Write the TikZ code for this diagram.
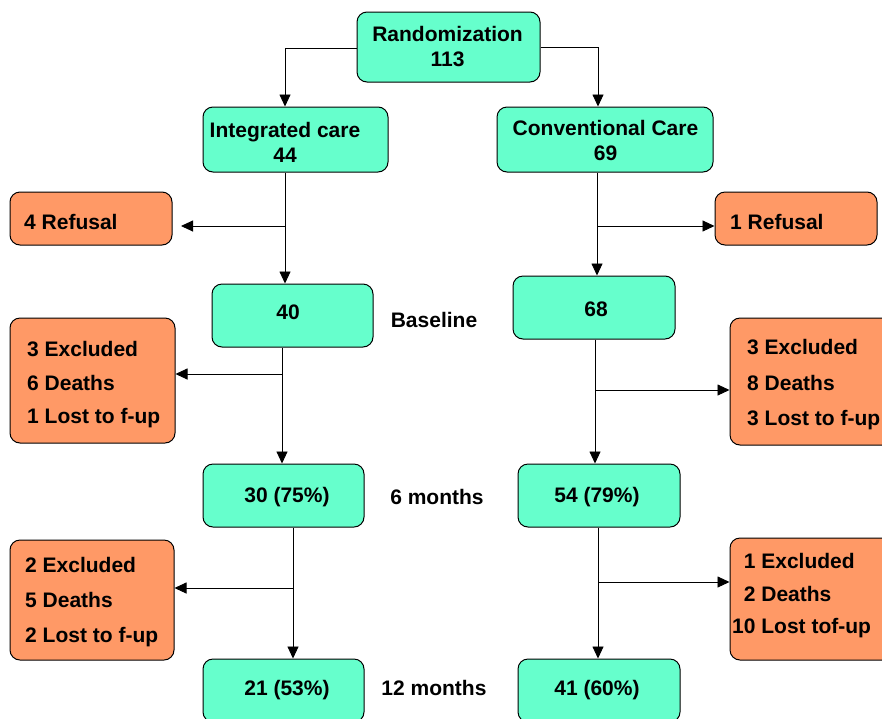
\documentclass[tikz,border=0pt]{standalone}
\usepackage{fontspec}
\setmainfont{Liberation Sans}
\usetikzlibrary{arrows.meta}
\definecolor{tealfill}{RGB}{102,255,204}
\definecolor{orangefill}{RGB}{255,153,102}
\tikzset{
  box/.style={draw=black, line width=1pt, rounded corners=10pt, inner sep=0pt},
  tealbox/.style={box, fill=tealfill},
  orangebox/.style={box, fill=orangefill},
  txt/.style={font=\fontsize{21}{25}\selectfont\bfseries, inner sep=0pt, align=center},
  ltxt/.style={font=\fontsize{21}{33.5}\selectfont\bfseries, inner sep=0pt, align=left, anchor=west},
  arr/.style={draw=black, line width=0.9pt, -{Triangle[length=12pt,width=11pt]}},
  ln/.style={draw=black, line width=0.9pt}
}
\begin{document}
\begin{tikzpicture}[x=1pt,y=-1pt]
\clip (0,0) rectangle (882,718);
\fill[white] (0,0) rectangle (882,718);
% boxes
\node[tealbox, minimum width=183pt, minimum height=70pt] (rand) at (448.5,47) {};
\node[txt] (randt) at (447.5,47) {Randomization\\113};
\node[tealbox, minimum width=185pt, minimum height=65pt] (ic) at (295.5,139.5) {};
\node[txt] (ict) at (285,142) {Integrated care\\44};
\node[tealbox, minimum width=216pt, minimum height=65pt] (cc) at (605,139.5) {};
\node[txt] (cct) at (605.5,140) {Conventional Care\\69};
\node[orangebox, minimum width=162pt, minimum height=53pt] (ref4) at (91,218.5) {};
\node[ltxt] (ref4t) at (24,222) {4 Refusal};
\node[orangebox, minimum width=162pt, minimum height=53pt] (ref1) at (796,218.5) {};
\node[ltxt] (ref1t) at (730,222) {1 Refusal};
\node[tealbox, minimum width=161pt, minimum height=63pt] (b40) at (292.5,315.5) {};
\node[txt] (b40t) at (288,312) {40};
\node[tealbox, minimum width=162pt, minimum height=63pt] (b68) at (594,307.5) {};
\node[txt] (b68t) at (596,309) {68};
\node[txt] (basel) at (434,320) {Baseline};
\node[orangebox, minimum width=165pt, minimum height=125pt] (ex1l) at (92.5,380.5) {};
\node[ltxt] (ex1lt) at (27,385) {3 Excluded\\6 Deaths\\1 Lost to f-up};
\node[orangebox, minimum width=162pt, minimum height=127pt] (ex1r) at (811,381.5) {};
\node[ltxt, font=\fontsize{21}{35.5}\selectfont\bfseries] (ex1rt) at (747,385) {3 Excluded\\8 Deaths\\3 Lost to f-up};
\node[tealbox, minimum width=161pt, minimum height=63pt] (b30) at (283.5,495.5) {};
\node[txt] (b30t) at (287,497) {30 (75\%)};
\node[tealbox, minimum width=162pt, minimum height=63pt] (b54) at (599,495.5) {};
\node[txt] (b54t) at (597,497) {54 (79\%)};
\node[txt] (m6) at (437,497) {6 months};
\node[orangebox, minimum width=164pt, minimum height=120pt] (ex2l) at (92,600) {};
\node[ltxt, font=\fontsize{21}{35}\selectfont\bfseries] (ex2lt) at (25,602) {2 Excluded\\5 Deaths\\2 Lost to f-up};
\node[orangebox, minimum width=162pt, minimum height=122pt] (ex2r) at (811,599) {};
\node[ltxt, font=\fontsize{21}{32.5}\selectfont\bfseries] (ex2rt) at (732,596) {\hphantom{1}1 Excluded\\\hphantom{1}2 Deaths\\10 Lost tof-up};
\node[tealbox, minimum width=161pt, minimum height=63pt] (b21) at (283.5,690.5) {};
\node[txt] (b21t) at (287,690) {21 (53\%)};
\node[tealbox, minimum width=162pt, minimum height=63pt] (b41) at (599,690.5) {};
\node[txt] (b41t) at (597,690) {41 (60\%)};
\node[txt] (m12) at (434,688) {12 months};
% junction coordinates
\coordinate (jr1) at (285,48);
\coordinate (jr2) at (598,47);
\coordinate (j1) at (285,226);
\coordinate (e1) at (181,226);
\coordinate (j2) at (597,226);
\coordinate (j3) at (282,374);
\coordinate (j4) at (595,390);
\coordinate (j5) at (293,588);
\coordinate (j6) at (598,582);
% connectors
\draw[arr] (rand.west |- jr1) -- (jr1) -- (jr1 |- ic.north);
\draw[arr] (rand.east |- jr2) -- (jr2) -- (jr2 |- cc.north);
\draw[arr] (j1 |- ic.south) -- (j1 |- b40.north);
\draw[arr] (j1) -- (e1);
\draw[arr] (j2 |- cc.south) -- (j2 |- b68.north);
\draw[arr] (j2) -- (j2 -| ref1.west);
\draw[arr] (j3 |- b40.south) -- (j3 |- b30.north);
\draw[arr] (j3) -- (j3 -| ex1l.east);
\draw[arr] (j4 |- b68.south) -- (j4 |- b54.north);
\draw[arr] (j4) -- (j4 -| ex1r.west);
\draw[arr] (j5 |- b30.south) -- (j5 |- b21.north);
\draw[arr] (j5) -- (j5 -| ex2l.east);
\draw[arr] (j6 |- b54.south) -- (j6 |- b41.north);
\draw[arr] (j6) -- (j6 -| ex2r.west);
\end{tikzpicture}
\end{document}
